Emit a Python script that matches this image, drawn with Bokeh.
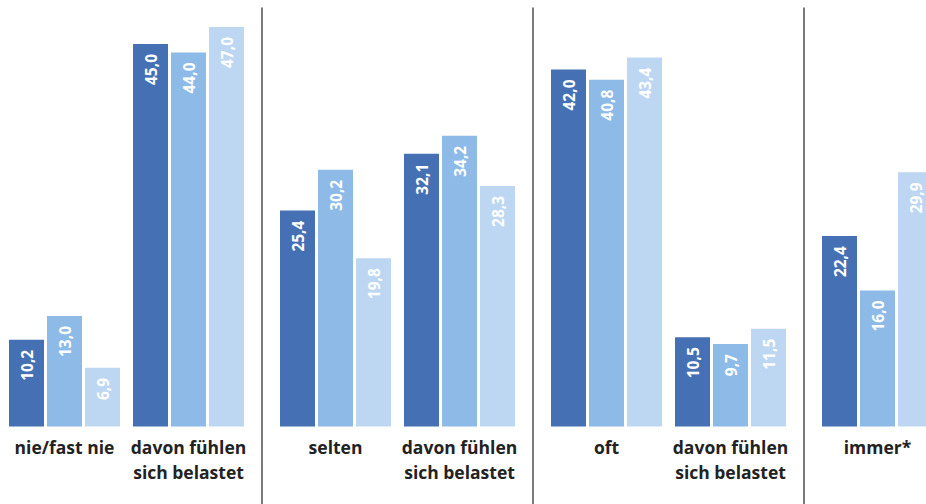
import math
from bokeh.plotting import figure
from bokeh.models import Range1d, ColumnDataSource
from bokeh.core.properties import value
from bokeh.embed import file_html
from bokeh.resources import INLINE

categories = ["nie/fast nie", "davon fühlen\nsich belastet", "selten", "davon fühlen\nsich belastet",
              "oft", "davon fühlen\nsich belastet", "immer*"]
series_a = [10.2, 45.0, 25.4, 32.1, 42.0, 10.5, 22.4]
series_b = [13.0, 44.0, 30.2, 34.2, 40.8, 9.7, 16.0]
series_c = [6.9, 47.0, 19.8, 28.3, 43.4, 11.5, 29.9]
colors = ["#4571b4", "#8ebae7", "#bdd7f2"]

# layout (pixel-like data units)
W, H = 926, 504
base_px = 426          # baseline y in picture
px_per_unit = 8.5
y0 = -(H - base_px) / px_per_unit
y1 = base_px / px_per_unit

p = figure(width=W, height=H, x_range=Range1d(0, W), y_range=Range1d(y0, y1),
           min_border=0, outline_line_color=None, toolbar_location=None,
           output_backend="svg", background_fill_color="white", border_fill_color="white")
p.axis.visible = False
p.grid.visible = False

first_center, group_step, section_extra, bar_step, bar_w = 64, 124, 23, 38, 35
centers = [first_center + i * group_step + (i // 2) * section_extra for i in range(len(categories))]

fmt = lambda v: f"{v:.1f}".replace(".", ",")

for k, (vals, col) in enumerate(zip([series_a, series_b, series_c], colors)):
    xs = [c + (k - 1) * bar_step for c in centers]
    src = ColumnDataSource(dict(x=xs, top=vals, lab=[fmt(v) for v in vals]))
    p.vbar(x="x", top="top", width=bar_w, bottom=0, source=src, fill_color=col, line_color=None)
    p.text(x="x", y="top", text="lab", source=src, angle=math.pi / 2, text_align="right",
           text_baseline="middle", y_offset=10, text_color="white",
           text_font=value("Open Sans"), text_font_style="bold", text_font_size="15.5px")

# separators
sep_x = [(centers[i] + centers[i + 1]) / 2 for i in range(1, len(centers) - 1, 2)]
top_sep = y1 - 7 / px_per_unit
p.segment(x0=sep_x, x1=sep_x, y0=[top_sep] * len(sep_x), y1=[y0] * len(sep_x),
          line_color="#333333", line_width=1.3)

# category labels
lx, ly, lt, loff = [], [], [], []
for c, cat in zip(centers, categories):
    for j, line in enumerate(cat.split("\n")):
        lx.append(c); ly.append(0); lt.append(line); loff.append(20 + 25 * j)
lsrc = ColumnDataSource(dict(x=lx, y=ly, t=lt, off=loff))
p.text(x="x", y="y", text="t", y_offset="off", source=lsrc, text_align="center",
       text_baseline="middle", text_color="#222222", text_font=value("Open Sans"),
       text_font_style="bold", text_font_size="17.5px")

open("out.html", "w").write(file_html(p, INLINE))
